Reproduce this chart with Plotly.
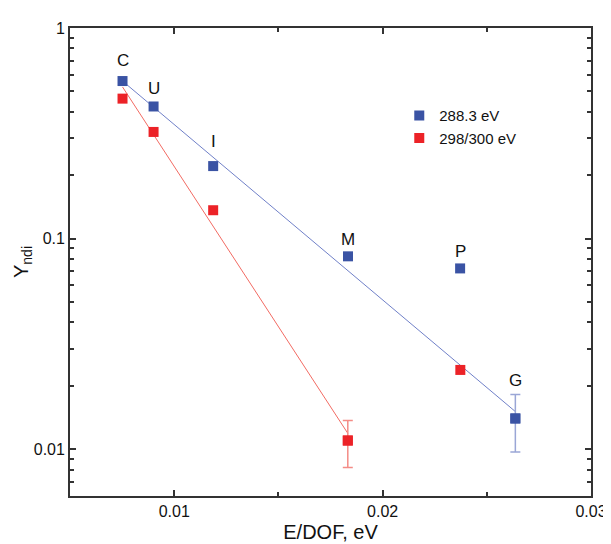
import math
import plotly.graph_objects as go

# ---- data ----
labels = ["C", "U", "I", "M", "P", "G"]
x_blue = [0.00752, 0.00901, 0.01187, 0.01834, 0.02372, 0.02637]
y_blue = [0.560, 0.424, 0.221, 0.0824, 0.0722, 0.0140]
x_red = [0.00752, 0.00901, 0.01187, 0.01833, 0.02373]
y_red = [0.462, 0.321, 0.1364, 0.0110, 0.0238]

# error bars (only one point each)
err_blue_x = [0.02637]
err_blue_y = [0.0140]
err_blue_plus = [0.0042]
err_blue_minus = [0.0043]
err_red_x = [0.01833]
err_red_y = [0.0110]
err_red_plus = [0.0027]
err_red_minus = [0.0028]

# fitted exponential lines (end points)
fit_blue_x = [0.00752, 0.02637]
fit_blue_y = [0.560, 0.0151]
fit_red_x = [0.00752, 0.01833]
fit_red_y = [0.525, 0.0119]

# label offsets in px above the blue points
label_shift = [21, 18, 25, 17, 17, 38]

x_ticks = [0.01, 0.02, 0.03]
x_ticktext = ["0.01", "0.02", "0.03"]
y_ticks = [0.01, 0.1, 1]
y_ticktext = ["0.01", "0.1", "1"]

BLUE = "#3A53A4"
RED = "#EC2227"
BLUE_LINE = "#7080C8"
RED_LINE = "#F26B63"
BLUE_ERR = "#9AA6D6"
RED_ERR = "#F48C86"
FONT = "Liberation Sans, Arial, sans-serif"

fig = go.Figure()

fig.add_trace(go.Scatter(x=fit_blue_x, y=fit_blue_y, mode="lines",
                         line=dict(color=BLUE_LINE, width=1), showlegend=False, hoverinfo="skip"))
fig.add_trace(go.Scatter(x=fit_red_x, y=fit_red_y, mode="lines",
                         line=dict(color=RED_LINE, width=1), showlegend=False, hoverinfo="skip"))

fig.add_trace(go.Scatter(x=err_blue_x, y=err_blue_y, mode="markers",
                         marker=dict(symbol="square", size=10, color=BLUE),
                         error_y=dict(type="data", array=err_blue_plus, arrayminus=err_blue_minus,
                                      color=BLUE_ERR, thickness=1.5, width=5),
                         showlegend=False))
fig.add_trace(go.Scatter(x=err_red_x, y=err_red_y, mode="markers",
                         marker=dict(symbol="square", size=10, color=RED),
                         error_y=dict(type="data", array=err_red_plus, arrayminus=err_red_minus,
                                      color=RED_ERR, thickness=1.5, width=5),
                         showlegend=False))

fig.add_trace(go.Scatter(x=x_blue, y=y_blue, mode="markers", name="288.3 eV",
                         marker=dict(symbol="square", size=10, color=BLUE)))
fig.add_trace(go.Scatter(x=x_red, y=y_red, mode="markers", name="298/300 eV",
                         marker=dict(symbol="square", size=10, color=RED)))

for lab, xx, yy, sh in zip(labels, x_blue, y_blue, label_shift):
    fig.add_annotation(x=xx, y=math.log10(yy), yref="y", xref="x", text=lab, showarrow=False,
                       yshift=sh, font=dict(size=17, color="#111", family=FONT))

minor_y = [m * d for d in (0.001, 0.01, 0.1) for m in range(2, 10)]

axis_common = dict(showline=True, linecolor="#333", linewidth=1.8, mirror="ticks",
                   ticks="inside", ticklen=6, tickwidth=1.5, tickcolor="#333",
                   showgrid=False, zeroline=False,
                   tickfont=dict(size=16, color="#111", family=FONT))

fig.update_xaxes(range=[0.005, 0.03], tickvals=x_ticks, ticktext=x_ticktext,
                 minor=dict(tickvals=[0.015, 0.025], ticks="inside", ticklen=4,
                            tickwidth=1.5, tickcolor="#333", showgrid=False),
                 title=dict(text="E/DOF, eV", font=dict(size=20, color="#111", family=FONT),
                            standoff=6),
                 **axis_common)
fig.update_yaxes(type="log", range=[-2.222, 0], tickvals=y_ticks, ticktext=y_ticktext,
                 minor=dict(tickvals=minor_y, ticks="inside", ticklen=4,
                            tickwidth=1.5, tickcolor="#333", showgrid=False),
                 title=dict(text="Y<sub>ndi</sub>", font=dict(size=20, color="#111", family=FONT),
                            standoff=0),
                 **axis_common)

fig.update_layout(
    width=611, height=544,
    margin=dict(l=62, r=17, t=20, b=47),
    plot_bgcolor="white", paper_bgcolor="white",
    font=dict(family=FONT, color="#111"),
    legend=dict(x=0.632, y=0.848, xanchor="left", yanchor="top",
                font=dict(size=15, family=FONT, color="#111"),
                bgcolor="rgba(0,0,0,0)", borderwidth=0, tracegroupgap=0),
)

fig.write_html("out.html")
